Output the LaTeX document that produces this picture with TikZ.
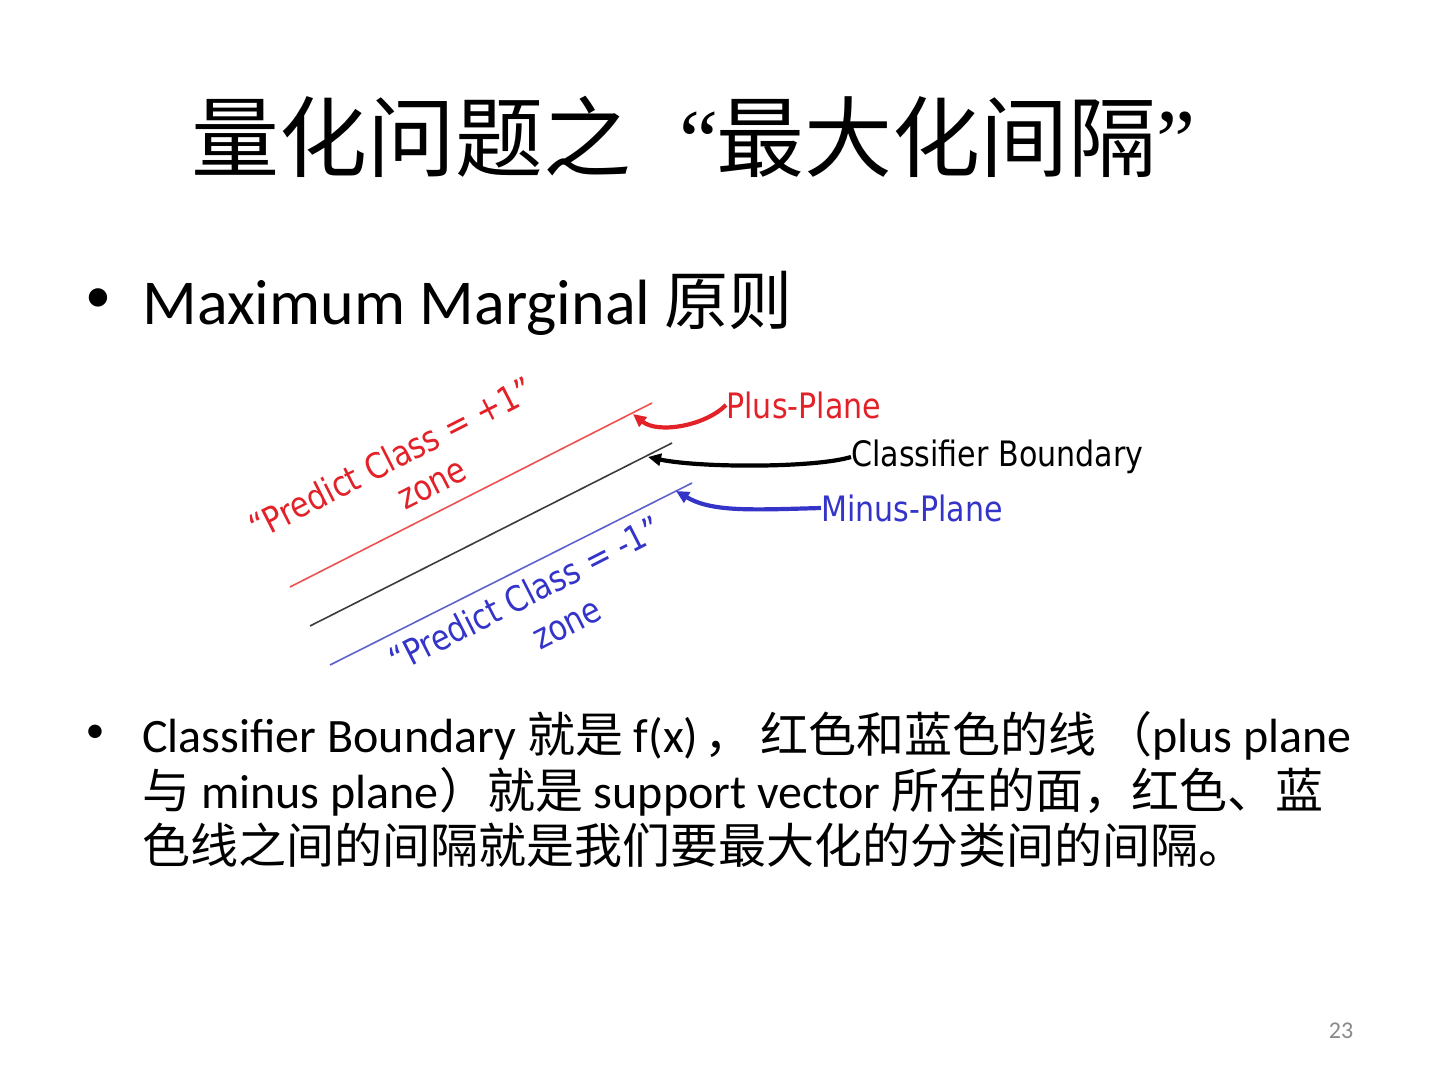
\documentclass[tikz,border=0pt]{standalone}
\usepackage{fontspec}
\setmainfont{Carlito}
\newfontfamily\cjk{Noto Sans CJK SC}
\newfontfamily\qserif{Liberation Serif}
\newfontfamily\diag[FakeStretch=0.86]{DejaVu Sans}
\usetikzlibrary{arrows.meta}
\definecolor{pred}{RGB}{226,34,40}
\definecolor{pblue}{RGB}{52,52,200}
\definecolor{lred}{RGB}{238,80,80}
\definecolor{lblue}{RGB}{96,96,206}
\definecolor{lgray}{RGB}{60,60,60}
\definecolor{pnum}{RGB}{137,137,137}
\tikzset{
  bodytext/.style={anchor=base west, inner sep=0pt},
  zonetext/.style={inner sep=0pt, rotate=27, font=\diag\fontsize{17.6}{21}\selectfont},
  labeltext/.style={anchor=west, inner sep=0pt, font=\diag\fontsize{17.5}{21}\selectfont},
  plane/.style={line width=0.8pt},
  pointer/.style={line width=2.1pt, -{Triangle[length=6.5pt,width=6pt]}},
}
\begin{document}
\begin{tikzpicture}[x=0.5pt,y=-0.5pt]
\useasboundingbox (0,0) rectangle (1440,1080);

% title
\node[bodytext] (title) at (191,171) {\fontsize{44}{52}\selectfont{\cjk 量化问题之}\hspace{24pt}{\qserif “}\hspace{-1pt}{\cjk 最大化间隔}{\qserif ”}};

% bullet 1
\node[inner sep=0pt] (b1) at (98,301) {\fontsize{26}{30}\selectfont •};
\node[bodytext] (t1) at (142,325) {\fontsize{32}{38}\selectfont Maximum Marginal {\cjk 原则}};

% diagram planes
\coordinate (r1) at (290,587); \coordinate (r2) at (652,403);
\coordinate (k1) at (310,626); \coordinate (k2) at (672,443);
\coordinate (u1) at (330,665); \coordinate (u2) at (692,483);
\draw[plane, lred] (r1) -- (r2);
\draw[plane, lgray] (k1) -- (k2);
\draw[plane, lblue] (u1) -- (u2);

% zone texts
\node[zonetext, text=pred] (rz1) at (391,458) {“Predict Class = +1”};
\node[zonetext, text=pred] (rz2) at (433,486) {zone};
\node[zonetext, text=pblue] (bz1) at (525,594) {“Predict Class = -1”};
\node[zonetext, text=pblue] (bz2) at (568,626) {zone};

% labels
\node[labeltext, text=pred] (plus) at (726,405) {Plus-Plane};
\node[labeltext, text=black] (cb) at (851,457) {Classifier Boundary};
\node[labeltext, text=pblue] (minus) at (821,508) {Minus-Plane};

% pointer tips
\coordinate (ptip) at (633,414);
\coordinate (ktip) at (648,457);
\coordinate (mtip) at (676,491);

\draw[pointer, pred] (plus.west) .. controls (705,426) and (658,434) .. (ptip);
\draw[pointer, black] (cb.west) .. controls (815,468) and (700,468) .. (ktip);
\draw[pointer, pblue] (minus.west) .. controls (750,510) and (712,512) .. (mtip);

% bullet 2
\node[inner sep=0pt] (b2) at (95,734) {\fontsize{19}{23}\selectfont •};
\node[bodytext] (l1) at (142,752) {\fontsize{24}{29}\selectfont Classifier Boundary {\cjk 就是} f(x)\hspace{3pt}{\cjk ，}\hspace{4pt}{\cjk 红色和蓝色的线}\hspace{4pt}{\cjk （}plus plane};
\node[bodytext] (l2) at (142,808) {\fontsize{24}{29}\selectfont {\cjk 与} minus plane{\cjk ）}{\cjk 就是} support vector {\cjk 所在的面，红色、蓝}};
\node[bodytext] (l3) at (142,863) {\fontsize{24}{29}\selectfont {\cjk 色线之间的间隔就是我们要最大化的分类间的间隔。}};

% page number
\node[inner sep=0pt, text=pnum] (pn) at (1341,1031) {\fontsize{12}{14}\selectfont 23};
\end{tikzpicture}
\end{document}
